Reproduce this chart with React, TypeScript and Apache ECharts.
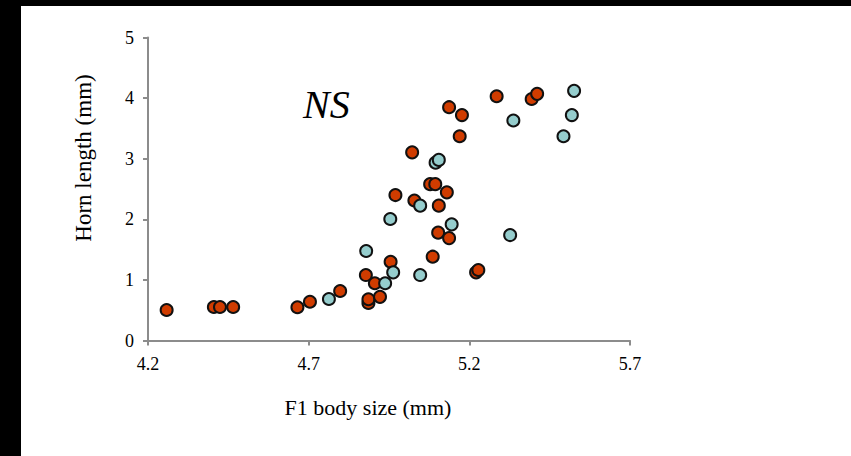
import React, { useEffect, useRef } from "react";
import * as echarts from "echarts";

const xTicks = [4.2, 4.7, 5.2, 5.7];
const yTicks = [0, 1, 2, 3, 4, 5];

const redX = [4.258, 4.405, 4.424, 4.465, 4.665, 4.704, 4.798, 4.878, 4.906, 4.886, 4.886, 4.922, 4.955, 4.970, 5.022, 5.029, 5.078, 5.094, 5.130, 5.105, 5.137, 5.177, 5.170, 5.103, 5.137, 5.086, 5.221, 5.228, 5.285, 5.394, 5.411];
const redY = [0.503, 0.553, 0.553, 0.553, 0.548, 0.64, 0.817, 1.08, 0.944, 0.62, 0.68, 0.72, 1.30, 2.40, 3.105, 2.31, 2.58, 2.58, 2.445, 2.225, 3.85, 3.72, 3.37, 1.78, 1.69, 1.383, 1.125, 1.163, 4.03, 3.985, 4.07];

const tealX = [4.763, 4.879, 4.938, 4.963, 4.954, 5.047, 5.047, 5.095, 5.105, 5.145, 5.327, 5.337, 5.493, 5.519, 5.526];
const tealY = [0.685, 1.477, 0.944, 1.125, 2.005, 1.08, 2.225, 2.935, 2.98, 1.917, 1.74, 3.63, 3.37, 3.72, 4.12];

const xTitle = "F1 body size (mm)";
const yTitle = "Horn length (mm)";
const annotation = "NS";

export default function App() {
  const ref = useRef<HTMLDivElement>(null);
  useEffect(() => {
    if (!ref.current) return;
    const chart = echarts.init(ref.current, null, { renderer: "svg" });
    const serif = "Liberation Serif";
    const axisGray = "#8c8c8c";
    chart.setOption({
      animation: false,
      backgroundColor: "#ffffff",
      grid: { left: 148, right: 221, top: 37.5, bottom: 115.5, containLabel: false },
      xAxis: {
        type: "value",
        min: xTicks[0],
        max: xTicks[xTicks.length - 1],
        interval: 0.5,
        splitLine: { show: false },
        axisLine: { show: true, onZero: false, lineStyle: { color: axisGray, width: 2 } },
        axisTick: { show: true, inside: false, length: 5, lineStyle: { color: axisGray, width: 2 } },
        axisLabel: {
          margin: 14,
          color: "#000",
          fontFamily: serif,
          fontSize: 18,
          formatter: (v: number) => v.toFixed(1),
        },
      },
      yAxis: {
        type: "value",
        min: yTicks[0],
        max: yTicks[yTicks.length - 1],
        interval: 1,
        splitLine: { show: false },
        axisLine: { show: true, onZero: false, lineStyle: { color: axisGray, width: 2 } },
        axisTick: { show: true, inside: false, length: 5, lineStyle: { color: axisGray, width: 2 } },
        axisLabel: { margin: 14, color: "#000", fontFamily: serif, fontSize: 18 },
      },
      series: [
        {
          type: "scatter",
          data: redX.map((x, i) => [x, redY[i]]),
          symbol: "circle",
          symbolSize: 12,
          itemStyle: { color: "#d03c00", borderColor: "#111", borderWidth: 2, opacity: 1 },
        },
        {
          type: "scatter",
          data: tealX.map((x, i) => [x, tealY[i]]),
          symbol: "circle",
          symbolSize: 12,
          itemStyle: { color: "#95cdcd", borderColor: "#111", borderWidth: 2, opacity: 1 },
        },
      ],
      graphic: [
        { type: "rect", left: 0, top: 0, shape: { width: 851, height: 6 }, style: { fill: "#000" }, silent: true },
        { type: "rect", left: 0, top: 0, shape: { width: 21, height: 456 }, style: { fill: "#000" }, silent: true },
        {
          type: "text",
          x: 303,
          y: 104,
          style: {
            text: annotation,
            fontFamily: serif,
            fontStyle: "italic",
            fontSize: 40,
            fill: "#000",
            textAlign: "left",
            textVerticalAlign: "middle",
          },
        },
        {
          type: "text",
          x: 368,
          y: 407,
          style: {
            text: xTitle,
            fontFamily: serif,
            fontSize: 22,
            fill: "#000",
            textAlign: "center",
            textVerticalAlign: "middle",
          },
        },
        {
          type: "text",
          x: 83,
          y: 158,
          rotation: Math.PI / 2,
          style: {
            text: yTitle,
            fontFamily: serif,
            fontSize: 23,
            fill: "#000",
            textAlign: "center",
            textVerticalAlign: "middle",
          },
        },
      ],
    });
    return () => chart.dispose();
  }, []);
  return (
    <div style={{ position: "fixed", left: 0, top: 0, width: 851, height: 456 }}>
      <div ref={ref} style={{ width: 851, height: 456 }} />
    </div>
  );
}
